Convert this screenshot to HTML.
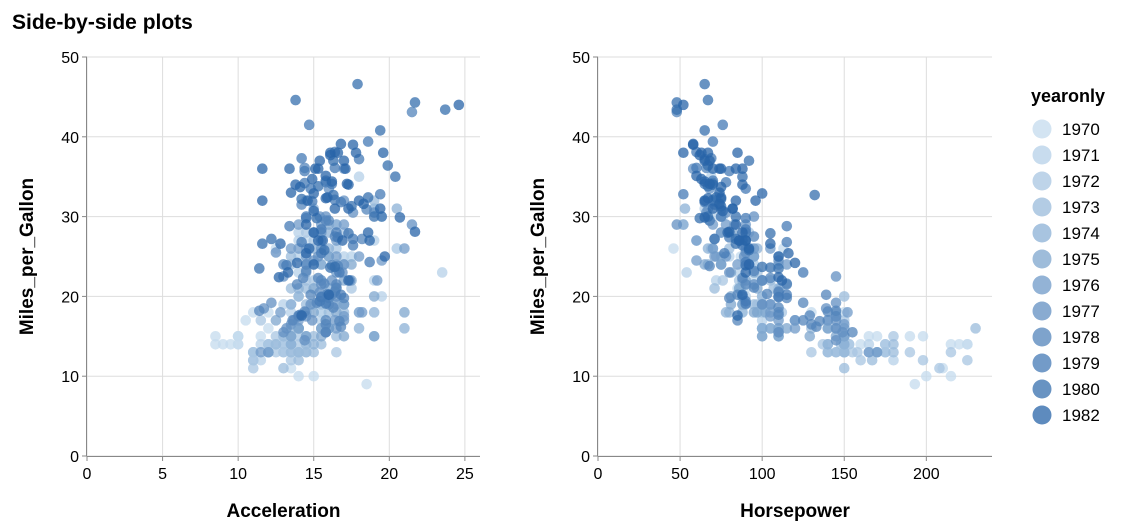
<!DOCTYPE html>
<html><head><meta charset="utf-8"><style>
body{margin:0;background:#fff;font-family:"Liberation Sans",sans-serif;}
svg{display:block}
</style></head><body>
<svg id="c" width="1132" height="532" xmlns="http://www.w3.org/2000/svg"></svg>
<script>
const years=[1970,1971,1972,1973,1974,1975,1976,1977,1978,1979,1980,1982];
// rows: [mpg, horsepower, acceleration]
const rows1970=[[18,130,12],[15,165,11.5],[18,150,11],[16,150,12],[17,140,10.5],[15,198,10],[14,220,9],[14,215,8.5],[14,225,10],[15,190,8.5],[15,170,10],[14,160,9.5],[15,150,10],[14,225,10],[24,95,15],[22,95,15.5],[18,97,15.5],[21,85,16],[27,88,14.5],[26,46,20.5],[25,87,17.5],[24,90,14.5],[25,95,17.5],[26,113,12.5],[21,90,15],[10,215,14],[10,200,15],[11,210,13.5],[9,193,18.5]];
const rows1971=[[27,88,14],[28,90,15.5],[25,95,14],[19,100,13],[16,105,15.5],[17,100,15.5],[19,88,15.5],[18,100,15.5],[14,165,12],[14,175,11.5],[14,153,13.5],[14,150,13],[12,180,11.5],[13,170,12],[13,175,12],[18,110,13.5],[22,72,19],[19,100,15],[18,88,14.5],[23,86,14],[28,90,14],[30,70,19.5],[30,76,14.5],[31,65,19],[35,69,18],[27,60,19],[26,70,20.5],[24,95,15.5],[25,80,17],[23,54,23.5],[20,90,19.5],[21,86,16.5]];
const rows1972=[[13,165,12],[14,175,12],[15,150,13.5],[14,153,13],[17,150,11.5],[11,208,11],[13,155,13.5],[12,160,13.5],[13,190,12.5],[19,97,13.5],[15,150,12.5],[13,130,14],[13,140,13],[14,150,12.5],[18,112,14.5],[22,76,14.5],[21,87,17.5],[26,69,16.5],[22,86,15],[28,92,14.5],[23,97,16.5],[28,80,17],[27,88,15],[13,175,11],[14,150,12],[13,145,13],[14,137,14.5],[15,150,13],[12,198,11],[13,150,16.5],[13,158,12],[14,150,14],[13,215,11],[12,225,11],[13,175,11],[19,105,16.5],[18,100,18],[14,140,13.5],[20,100,16],[15,180,14]];
const rows1973=[[12,167,14],[13,170,13.5],[13,180,12],[19,100,16],[13,145,14],[15,150,16.5],[13,150,14],[13,140,14.5],[14,150,15.5],[18,110,14.5],[22,105,15.5],[21,110,13.5],[21,107,16],[18,145,16],[16,230,13.5],[13,150,15],[29,52,16.5],[24,110,13],[20,88,14],[19,95,15.5],[15,100,15],[24,110,13.5],[20,150,16],[11,150,13],[20,100,14],[21,71,14.5],[19,88,14.5],[15,150,13],[31,67,19],[26,80,15.5],[32,65,19],[25,75,13.5],[16,100,16],[16,110,15.5],[18,88,17],[16,130,14],[13,150,14.5],[14,180,14.5],[14,148,13.5],[14,150,12.5]];
const rows1974=[[29,52,16.5],[26,67,16],[26,90,14.5],[31,67,15],[32,65,14.5],[28,75,15.5],[24,75,14.5],[26,93,14.5],[24,67,16.5],[26,97,15],[31,53,20.5],[19,100,13.5],[18,80,19],[15,110,19],[15,150,13.5],[16,100,16],[15,150,14.5],[16,140,14],[14,150,15],[14,140,13.5],[28,90,16],[25,110,16],[16,100,18],[16,100,21],[18,78,14.5],[21,111,14]];
const rows1975=[[15,150,13.5],[17,140,12.5],[16,150,14],[15,145,14.5],[19,88,17],[18,95,15],[19,105,16],[23,81,16.5],[20,110,19],[23,95,14.5],[18,97,16.5],[19,100,16.5],[15,129,15.5],[15,100,19],[15,110,17],[16,145,14],[16,140,14],[29,83,16],[24,75,17],[20,81,16],[22,90,17.5],[21,86,16.5],[24,75,15.5],[21,97,15],[25,72,16],[16,105,16],[28,82,15],[24,65,17.5],[22,88,17],[19,90,17],[18,110,18],[18,102,21],[19,81,17],[16,110,16],[16,115,15.5]];
const rows1976=[[29,70,15.5],[24,115,13],[25,95,18],[26,105,15.5],[25,71,16.5],[26,95,13.5],[17,110,16.4],[16,120,16.5],[25,78,14.5],[29,90,17],[24,85,14.5],[17,120,17],[28,80,15.5],[28,75,15],[26,70,21],[24,92,17],[27,60,16.5],[27,88,15.5],[26,90,14],[13,165,12],[17,140,13.7],[16.5,150,13.5],[20,110,15.5],[19,105,16],[17,120,14],[18,152,12.8],[22,100,19.2],[18,105,18.2],[15.5,110,15.8],[17.5,105,17],[13,170,11.5],[29,78,14],[24.5,60,19.5],[22,100,15.5]];
const rows1977=[[32,70,17],[21.5,95,15.5],[19,100,14.8],[20,88,16.5],[20.5,110,15.4],[16,145,13.2],[17.5,145,14.5],[15.5,149,13],[17,145,14.9],[15.5,110,15.8],[14.5,145,14.4],[22,100,16.2],[22,100,17.4],[24,92,14.5],[22.5,145,13],[29,48,21.5],[24.5,110,15],[30,75,15.4],[30.5,78,17.6],[33.5,68,16],[30,95,15.8],[30.5,66,19],[23,80,16.9],[25.5,90,12.5],[36,58,17],[25,89,15.3],[19.2,145,12.2],[18.5,139,11.7],[17.5,145,14]];
const rows1978=[[29.5,68,16],[21.5,115,13.9],[19.8,115,16],[22.3,105,15.3],[20.2,85,16.2],[20.6,110,16.4],[17,85,15.8],[17.6,129,14],[16.5,130,15.8],[18.2,145,11.4],[16.9,135,16.7],[15.5,155,15.8],[19.2,125,15.2],[18.6,110,16.3],[18.1,140,14.4],[20.2,139,14.8],[17.7,110,14.1],[30,75,14.5],[27.5,95,16.4],[27.2,71,18.2],[30.9,75,18.5],[21.1,95,16.5],[23.2,95,14.5],[23.8,68,16.6],[23.9,90,16.2],[20.3,103,15.9],[17,125,13.6],[21.6,115,15.7],[16.2,133,16.8],[31.5,71,14.2],[29.5,68,15.8],[21.5,90,16.5],[19.8,80,17],[22.3,88,14.3],[43.1,48,21.5],[36.1,66,14.4]];
const rows1979=[[32.8,52,19.4],[39.4,70,18.6],[36.1,60,16.4],[19.9,110,15.5],[19.4,90,15.4],[20.2,115,16.8],[31.9,71,14.9],[34.1,65,16.2],[35.7,80,14.4],[27.4,80,16.6],[25.4,77,15.5],[23,125,16.7],[27.2,71,17.6],[23.9,90,13.2],[34.2,70,14.4],[34.5,70,15.8],[31.8,65,16.8],[37.3,69,14.2],[28.4,90,15.5],[28.8,115,13.4],[26.8,115,14.2],[33.5,90,14.8],[41.5,76,14.7],[38.1,60,16.4],[32.1,70,16.4],[37.2,65,18],[28,90,16.5],[26.4,88,17.6],[24.3,90,18.7],[19.1,90,15.8],[34.3,78,15.8],[29.8,90,14.5]];
const rows1980=[[31.3,75,17.5],[37,92,16.3],[32.2,75,14.2],[46.6,65,17.9],[27.9,105,17.3],[40.8,65,19.4],[44.3,48,21.7],[43.4,48,23.7],[36.4,67,19.9],[30,67,19.5],[44.6,67,13.8],[33.8,67,15.3],[29.8,62,15.2],[32.7,132,16.3],[23.7,100,16.4],[35,88,20.4],[23.6,105,16.1],[32.4,72,18.6],[27.2,84,12.2],[26.6,84,11.6],[25.8,92,15.7],[23.5,110,11.4],[30,84,19]];
const rows1982=[[39.1,58,16.8],[39,58,17.6],[35.1,60,15.8],[32.3,67,15.8],[37,65,15.4],[37.7,62,16.1],[34.1,68,17.2],[34.7,63,14.9],[34.4,65,16.2],[29.9,65,20.7],[33,74,13.5],[33.7,75,14.1],[32.4,75,15.9],[32.9,100,15],[31.6,74,18.3],[28.1,80,21.7],[30.7,76,15],[25.4,116,14.5],[24.2,120,13.9],[22.4,110,12.7],[26.6,105,12.8],[20.2,88,16],[17.6,85,14.2],[28,88,15],[27,86,15.6],[34,88,17.3],[31,82,16.4],[29,84,14.5],[27,90,16.9],[24,92,15],[23,90,13.3],[36,74,15.3],[37,68,17],[31,70,17.3],[38,63,19.6],[36,70,15.1],[36,88,17.1],[36,75,13.4],[34,70,13.8],[38,67,16.1],[32,65,18],[38,52,16.6],[25,110,19.7],[38,85,17.8],[26,92,14.7],[22,112,17.3],[32,96,14.6],[36,84,11.6],[27,90,18.7],[27,86,15.3],[44,52,24.6],[32,84,11.6],[28,79,18.6],[31,82,19.4]];
const yearRows=[rows1970,rows1971,rows1972,rows1973,rows1974,rows1975,rows1976,rows1977,rows1978,rows1979,rows1980,rows1982];
const yTicks=[0,10,20,30,40,50];
const accTicks=[0,5,10,15,20,25];
const hpTicks=[0,50,100,150,200];

const NS="http://www.w3.org/2000/svg";
const svg=document.getElementById('c');
function mk(tag,attrs,parent){const e=document.createElementNS(NS,tag);for(const k in attrs)e.setAttribute(k,attrs[k]);(parent||svg).appendChild(e);return e;}
function lerp(a,b,t){return Math.round(a+(b-a)*t);}
function yearColor(i){const t=i/(years.length-1);return `rgb(${lerp(196,40,t)},${lerp(219,100,t)},${lerp(238,168,t)})`;}

const title=mk('text',{x:12,y:29,'font-size':21,'font-weight':'bold',fill:'#000'});
title.textContent='Side-by-side plots';



const plotTop=57,plotBottom=456;
const yScale=v=>plotBottom-(v/50)*(plotBottom-plotTop);

function panel(name,left,right,xmax,ticks,col,xTitle){
  const g=mk('g',{});
  
  
  const xs=v=>left+(v/xmax)*(right-left);
  ticks.forEach(t=>{mk('line',{x1:xs(t),x2:xs(t),y1:plotTop,y2:plotBottom,stroke:'#ddd'},g);});
  yTicks.forEach(t=>{mk('line',{x1:left,x2:right,y1:yScale(t),y2:yScale(t),stroke:'#ddd'},g);});
  const pts=mk('g',{},g);
  
  
  yearRows.forEach((rows,yi)=>{
    rows.forEach(r=>{
      const c=mk('circle',{cx:xs(r[col]),cy:yScale(r[0]),r:5.3,fill:yearColor(yi),'fill-opacity':0.75},pts);
      
      
    });
  });
  mk('line',{x1:left,x2:right,y1:plotBottom+0.5,y2:plotBottom+0.5,stroke:'#888'},g);
  mk('line',{x1:left-0.5,x2:left-0.5,y1:plotTop,y2:plotBottom,stroke:'#888'},g);
  ticks.forEach(t=>{
    mk('line',{x1:xs(t),x2:xs(t),y1:plotBottom,y2:plotBottom+5,stroke:'#888'},g);
    const tx=mk('text',{x:xs(t),y:plotBottom+23,'font-size':16,'text-anchor':'middle',fill:'#000'},g);
    tx.textContent=t;
    
    
  });
  yTicks.forEach(t=>{
    mk('line',{x1:left-5,x2:left,y1:yScale(t),y2:yScale(t),stroke:'#888'},g);
    const tx=mk('text',{x:left-8,y:yScale(t)+6,'font-size':16,'text-anchor':'end',fill:'#000'},g);
    tx.textContent=t;
    
    
  });
  const xt=mk('text',{x:(left+right)/2,y:517,'font-size':19,'font-weight':'bold','text-anchor':'middle',fill:'#000'},g);
  xt.textContent=xTitle;
  
  
  const yx=left-54, yc=(plotTop+plotBottom)/2;
  const yt=mk('text',{x:yx,y:yc,'font-size':19,'font-weight':'bold','text-anchor':'middle',fill:'#000',transform:`rotate(-90 ${yx} ${yc})`},g);
  yt.textContent='Miles_per_Gallon';
  
  
}
panel('acceleration-plot',87,480,26,accTicks,2,'Acceleration');
panel('horsepower-plot',598,992,240,hpTicks,1,'Horsepower');

const lg=mk('g',{});


const lt=mk('text',{x:1031,y:102,'font-size':18,'font-weight':'bold',fill:'#000'},lg);
lt.textContent='yearonly';


years.forEach((y,i)=>{
  const cy=129+i*26;
  const e=mk('g',{},lg);
  
  
  mk('circle',{cx:1042,cy:cy,r:9.5,fill:yearColor(i),'fill-opacity':0.75},e);
  const t=mk('text',{x:1062,y:cy+6,'font-size':17,fill:'#000'},e);
  t.textContent=y;
});
</script>
</body></html>
